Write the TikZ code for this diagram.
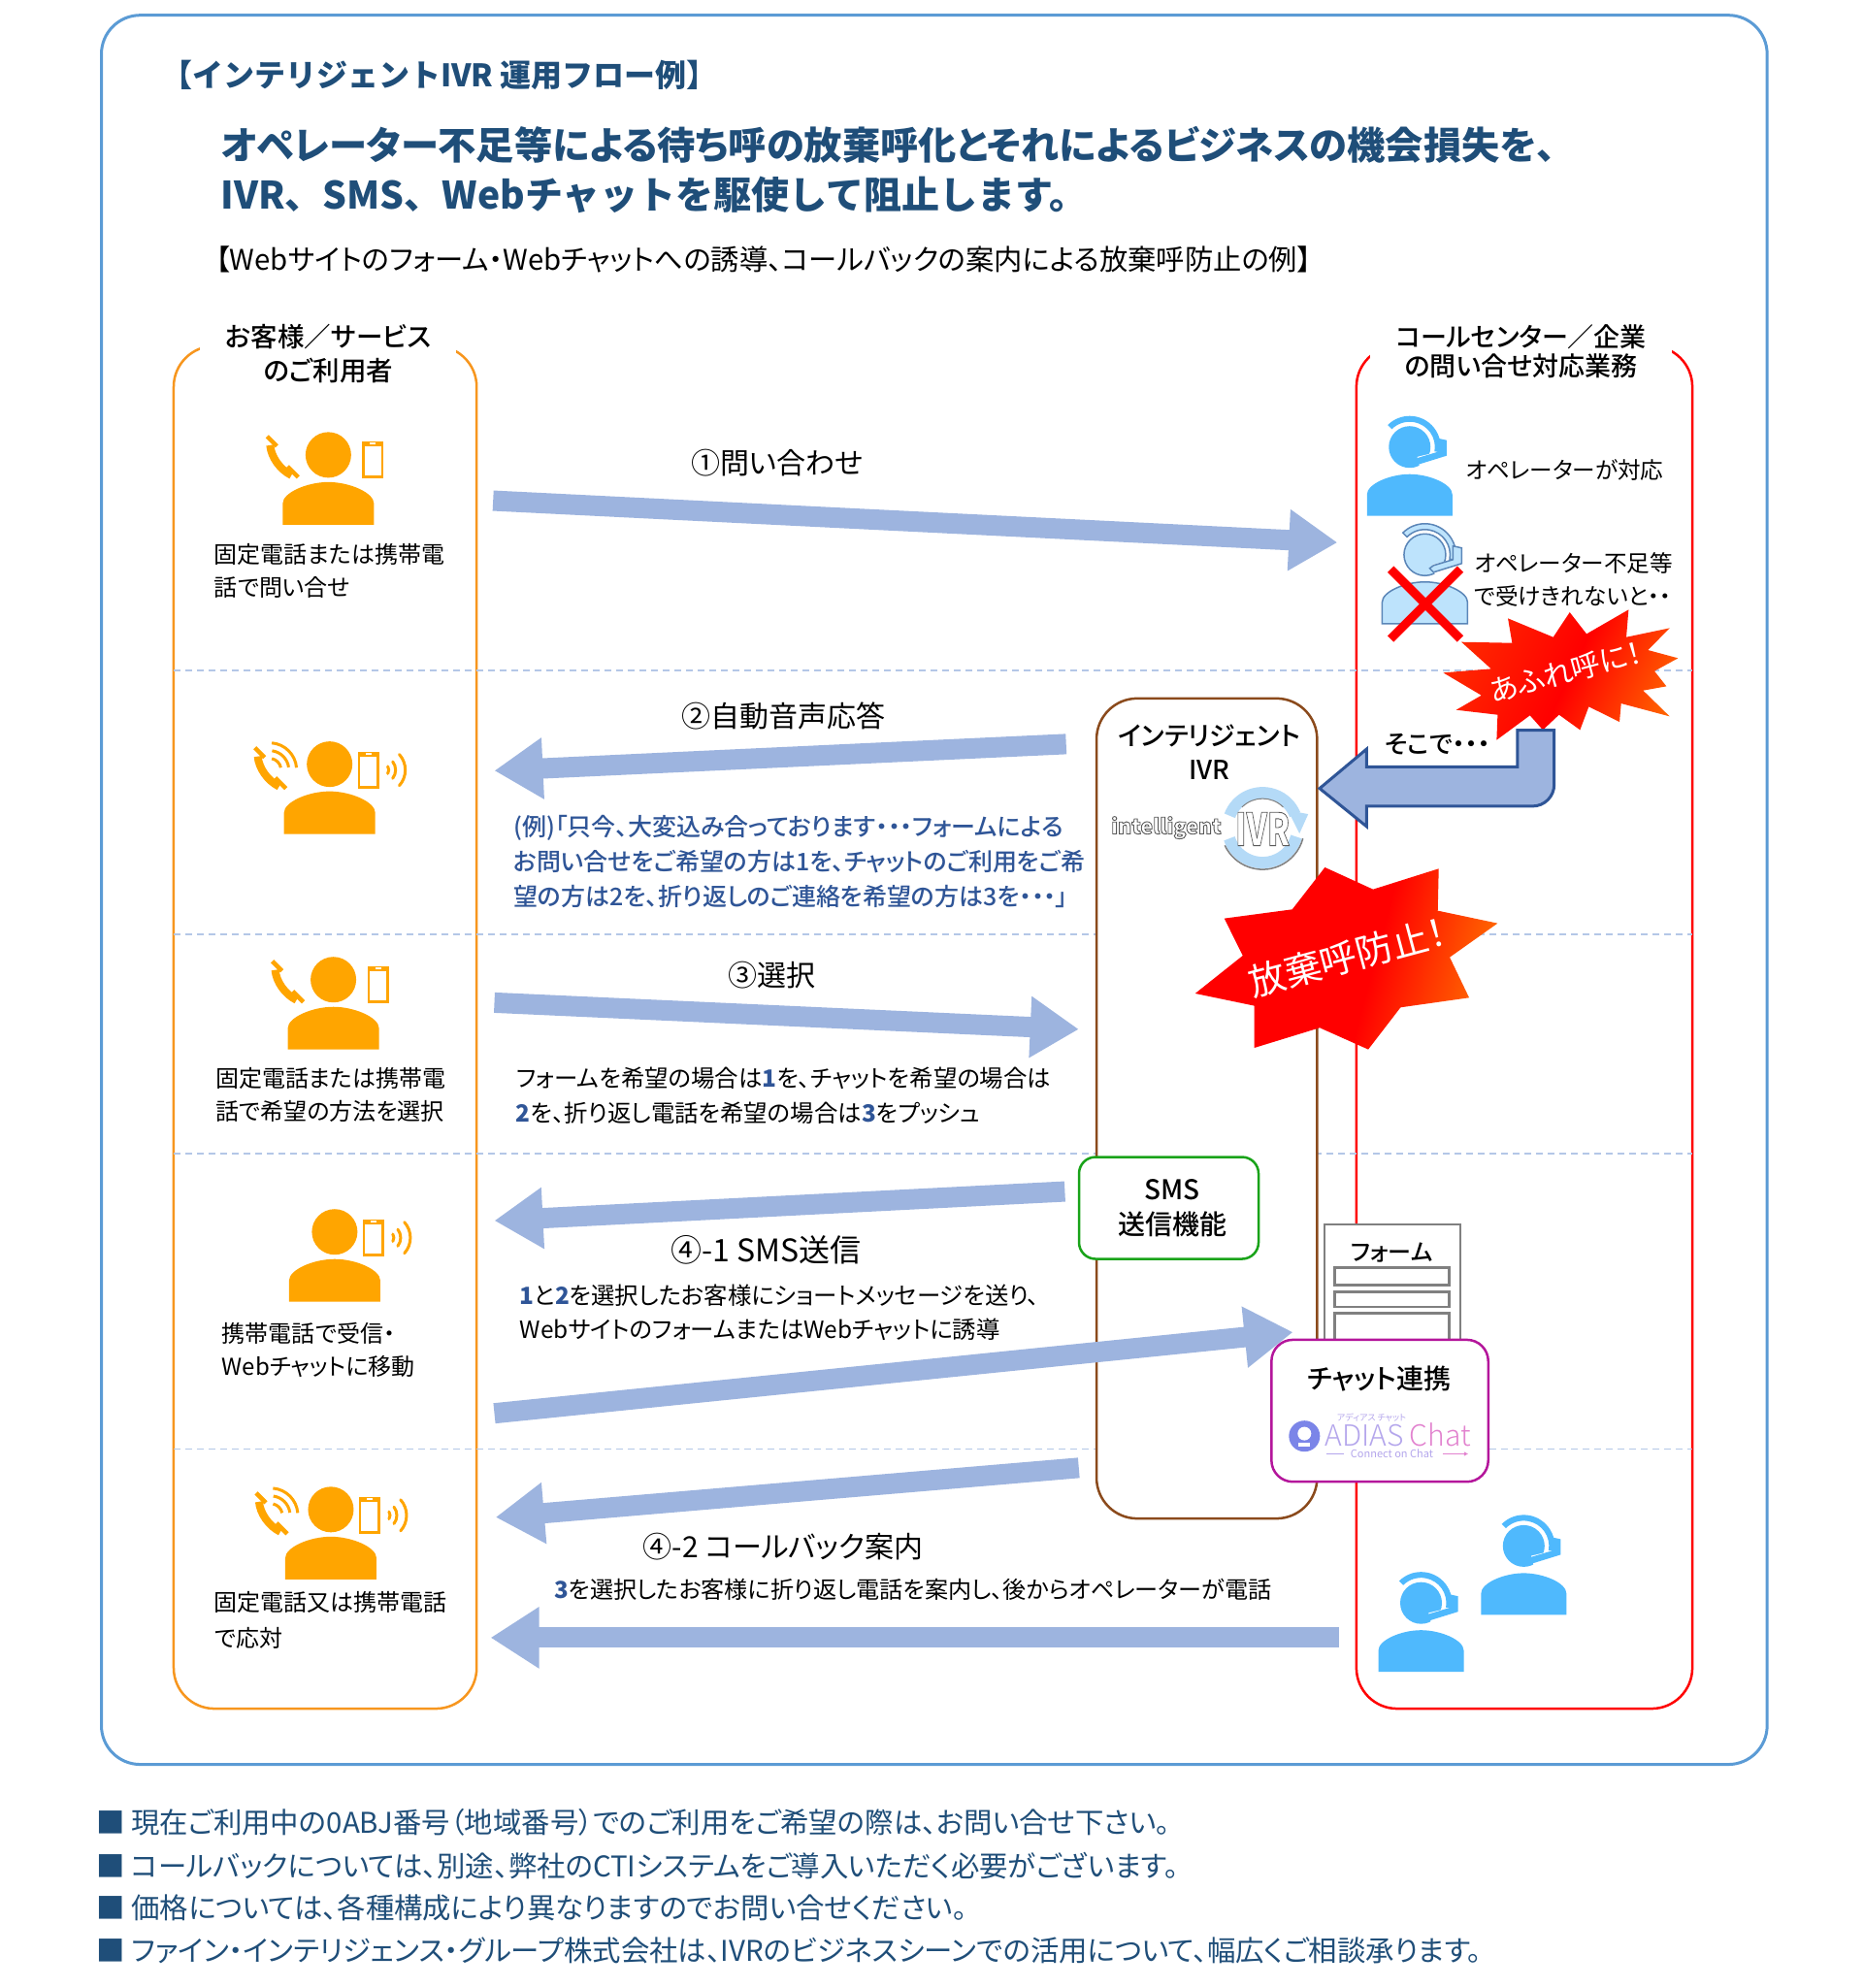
\documentclass[tikz,border=0pt]{standalone}
\usepackage{fontspec}
\setmainfont[RawFeature=+palt]{Noto Sans CJK JP}
\newfontfamily\medfont[RawFeature=+palt]{Noto Sans CJK JP Medium}
\newfontfamily\lightfont{Noto Sans CJK JP Light}
\newfontfamily\fullfont{Noto Sans CJK JP}
\usetikzlibrary{arrows.meta}

\definecolor{headblue}{HTML}{1F4E79}
\definecolor{keyblue}{HTML}{2F5597}
\definecolor{framecol}{HTML}{5B9BD5}
\definecolor{flowcol}{HTML}{9DB4DF}
\definecolor{dashcol}{HTML}{B4C7E7}
\definecolor{custcol}{HTML}{F7961E}
\definecolor{iconorange}{HTML}{FFA500}
\definecolor{opblue}{HTML}{4FB9FD}
\definecolor{opfade}{HTML}{BDE3FC}
\definecolor{opedge}{HTML}{5B86B8}
\definecolor{ivrcol}{HTML}{8B4A1C}
\definecolor{ringcol}{HTML}{B4DAF7}
\definecolor{chatcol}{HTML}{B4169B}
\definecolor{logopurple}{HTML}{B4A6EC}
\definecolor{logopink}{HTML}{E283CF}
\definecolor{logocirc}{HTML}{7B85E8}

\pgfdeclarehorizontalshading{burstA}{100bp}{color(0bp)=(red); color(55bp)=(red); color(100bp)=(yellow!80!orange)}
\pgfdeclarehorizontalshading{burstB}{100bp}{color(0bp)=(orange!60!red); color(52bp)=(red); color(100bp)=(yellow!45!orange)}

\newcommand{\fsz}[2]{\fontsize{#1}{#2}\selectfont}
\newcommand{\edged}[1]{\special{pdf:code 2 Tr .9 w .35 G}#1\special{pdf:code 0 Tr}}

\tikzset{
  flow/.style={draw=flowcol,line width=21pt,-{Triangle[length=50pt,width=60pt]}},
  steplabel/.style={font=\fsz{30}{36},inner sep=0pt},
  caption/.style={font=\fsz{24}{34},anchor=west,align=left,inner sep=0pt},
  bodytext/.style={font=\fsz{24.4}{35.5},anchor=west,align=left,inner sep=0pt},
  boxtitle/.style={font=\medfont\fsz{27.5}{35},fill=white,align=center,inner sep=0pt},
  note/.style={font=\fsz{29.4}{32},text=headblue,anchor=west,inner sep=0pt},
  sepline/.style={draw=dashcol,line width=1.5pt,dash pattern=on 7pt off 5pt},
  person/.pic={
    \begin{scope}[x=1pt,y=1pt]
    \fill[iconorange] (0,72) circle (23.5);
    \fill[iconorange] (-47,0) -- (-47,22) .. controls (-47,33) and (-22,44) .. (0,44) .. controls (22,44) and (47,33) .. (47,22) -- (47,0) -- cycle;
    \end{scope}
  },
  handset/.pic={
    \begin{scope}[x=1pt,y=1pt]
    \draw[iconorange,line width=8pt] (-60,82) .. controls (-59,70) and (-50,57) .. (-38,51);
    \draw[iconorange,line width=4.5pt] (-63,91) -- (-53,81);
    \draw[iconorange,line width=4.5pt] (-42,60) -- (-31,49);
    \end{scope}
  },
  mobile/.pic={
    \begin{scope}[x=1pt,y=1pt]
    \fill[iconorange] (-11,-19) rectangle (11,19);
    \fill[white] (-8.5,-16) rectangle (8.5,14);
    \fill[white] (-3,15.5) rectangle (3,17.5);
    \end{scope}
  },
  sidewaves/.pic={
    \begin{scope}[x=1pt,y=1pt]
    \draw[iconorange,line width=3pt,line cap=round] (-32:7) arc[start angle=-32,end angle=32,radius=7];
    \draw[iconorange,line width=3pt,line cap=round] (-38:14) arc[start angle=-38,end angle=38,radius=14];
    \draw[iconorange,line width=3pt,line cap=round] (-42:24) arc[start angle=-42,end angle=42,radius=24];
    \end{scope}
  },
  handwaves/.pic={
    \begin{scope}[x=1pt,y=1pt]
    \draw[iconorange,line width=3pt] (12:12) arc[start angle=12,end angle=78,radius=12];
    \draw[iconorange,line width=3pt] (8:20) arc[start angle=8,end angle=82,radius=20];
    \draw[iconorange,line width=3pt] (5:28) arc[start angle=5,end angle=85,radius=28];
    \end{scope}
  },
  callperson/.pic={
    \pic {person}; \pic {handset};
    \begin{scope}[x=1pt,y=1pt]
    \pic at (46,67) {mobile};
    \end{scope}
  },
  ringperson/.pic={
    \pic {person};
    \begin{scope}[x=1pt,y=1pt]
    \pic at (-14,-2) {handset};
    \pic at (-62,66) {handwaves};
    \pic at (40,66) {mobile};
    \pic at (54,66) {sidewaves};
    \end{scope}
  },
  mobileperson/.pic={
    \pic {person};
    \begin{scope}[x=1pt,y=1pt]
    \pic at (40,66) {mobile};
    \pic at (54,66) {sidewaves};
    \end{scope}
  },
  operator/.pic={
    \begin{scope}[x=1pt,y=1pt]
    \path[pic actions] (-44,0) -- (-44,22) .. controls (-44,33) and (-20,43) .. (0,43) .. controls (20,43) and (44,33) .. (44,22) -- (44,0) -- cycle;
    \begin{scope}[shift={(0,71)}]
    \path[pic actions] (0,0) circle (21.5);
    \draw[white,line width=10pt] (38,-8) -- (9,-15);
    \path[pic actions] (135:32) arc[start angle=135,end angle=-10,radius=32] -- (-10:26) arc[start angle=-10,end angle=135,radius=26] -- cycle;
    \path[pic actions] (29,9) -- (38,7) -- (38,-9) -- (9,-18) -- (5,-14) -- (9,-11) -- (29,-5) -- cycle;
    \end{scope}
    \end{scope}
  },
}

\begin{document}
\begin{tikzpicture}[x=1.3064pt,y=-1.3064pt]
\useasboundingbox (0,0) rectangle (1469.7,1568.4);
\fill[white] (0,0) rectangle (1469.7,1568.4);
\draw[framecol,line width=3pt,rounded corners=40pt] (80,12) rectangle (1394,1392);

\node[inner sep=0pt,anchor=west,text=headblue,font=\fullfont\bfseries\fsz{32}{34}] (flowtitle) at (127,59) {【インテリジェントIVR 運用フロー例】};
\node[inner sep=0pt,anchor=west,text=headblue,font=\bfseries\fsz{39.25}{50.5},align=left] (mainhead) at (174,134) {オペレーター不足等による待ち呼の放棄呼化とそれによるビジネスの機会損失を、\\{\fullfont\bfseries\fsz{39}{50.5}IVR、SMS、Webチャットを駆使して阻止します。}};
\node[inner sep=0pt,anchor=west,font=\fsz{29.3}{36}] (subhead) at (170,205) {【Webサイトのフォーム・Webチャットへの誘導、コールバックの案内による放棄呼防止の例】};

% swim lanes
\draw[custcol,line width=2.5pt,rounded corners=42pt] (137,273) rectangle (376,1348);
\draw[red,line width=2.5pt,rounded corners=42pt] (1070,273) rectangle (1335,1348);
\node[boxtitle,minimum width=264pt] (custtitle) at (259,279) {お客様／サービス\\のご利用者};
\node[boxtitle,minimum width=311pt,font=\medfont\fsz{27}{30}] (ctrtitle) at (1200,277) {コールセンター／企業\\の問い合せ対応業務};
\foreach \ypos in {529,737,910,1143} \draw[sepline] (137,\ypos) -- (1335,\ypos);

% ivr column
\draw[ivrcol,fill=white,line width=2.5pt,rounded corners=42pt] (865,551) rectangle (1039,1198);
\node[font=\medfont\fsz{27}{35},align=center,inner sep=0pt] (ivrtitle) at (954,593) {インテリジェント\\IVR};
\begin{scope}[shift={(996,653)},x=1pt,y=1pt]
\draw[ringcol,line width=12pt] (160:36) arc[start angle=160,end angle=22,radius=36];
\draw[ringcol,line width=12pt] (198:36) arc[start angle=198,end angle=345,radius=36];
\fill[ringcol] (26,18) -- (47,14) -- (38,-6) -- cycle;
\draw[gray,line width=1.5pt] (205:43) arc[start angle=205,end angle=345,radius=43];
\draw[gray,line width=1pt] (45:30) arc[start angle=45,end angle=135,radius=30];
\end{scope}
\node[inner sep=0pt,text=white,font=\bfseries\fsz{21.5}{26}] (ivrword) at (920,653) {\edged{intelligent}};
\node[inner sep=0pt,xscale=.72,text=white,font=\bfseries\fsz{46}{50}] (ivrmark) at (996,654) {\edged{IVR}};

% customer side
\pic at (259,414) {callperson};
\pic at (260,658) {ringperson};
\pic at (263,828) {callperson};
\pic at (264,1027) {mobileperson};
\pic at (261,1246) {ringperson};
\node[caption] (cap1) at (169,450) {固定電話または携帯電\\話で問い合せ};
\node[caption] (cap2) at (170,864) {固定電話または携帯電\\話で希望の方法を選択};
\node[caption] (cap3) at (175,1065) {携帯電話で受信・\\Webチャットに移動};
\node[caption,font=\fsz{24}{36.5}] (cap4) at (169,1278) {固定電話又は携帯電話\\で応対};

% call centre side
\pic[fill=opblue] at (1112,407) {operator};
\pic[fill=opfade,draw=opedge,line width=1.5pt] at (1124,492) {operator};
\draw[red,line width=9pt] (1097,449) -- (1152,504);
\draw[red,line width=9pt] (1152,449) -- (1097,504);
\pic[fill=opblue] at (1202,1274) {operator};
\pic[fill=opblue] at (1121,1319) {operator};
\node[caption,font=\fsz{23.6}{34}] (opok) at (1156,371) {オペレーターが対応};
\node[caption,font=\fsz{23.6}{34}] (opbusy) at (1163,457) {オペレーター不足等\\で受けきれないと・・};

% overflow burst
\begin{scope}[shift={(1132.9,474.6)},x=.3333pt,y=-.3333pt]
\shade[shading=burstB,shading angle=-25] (78,125) -- (235,128) -- (222,52) -- (362,110) -- (413,33) -- (465,100) -- (595,25) -- (588,110) -- (722,82) -- (655,150) -- (748,175) -- (675,215) -- (712,262) -- (640,275) -- (722,355) -- (572,315) -- (567,372) -- (472,325) -- (445,397) -- (380,350) -- (330,397) -- (290,352) -- (187,428) -- (190,350) -- (62,335) -- (140,290) -- (22,220) -- (170,208) -- cycle;
\end{scope}
\node[rotate=15,inner sep=0pt,text=white,font=\fsz{30}{30}] (overflow) at (1235,530) {あふれ呼に！};
\draw[keyblue,fill=flowcol,line width=3pt] (1226,576) -- (1197,576) -- (1197,605) -- (1078,605) -- (1078,591) -- (1041,622) -- (1078,652) -- (1078,636) -- (1209,636) arc[start angle=90,end angle=0,radius=17] -- cycle;
\node[inner sep=0pt,font=\medfont\fsz{26}{26}] (then) at (1134,587) {そこで・・・};

% prevented burst
\begin{scope}[shift={(834.4,535.8)},x=.3333pt,y=-.3333pt]
\shade[shading=burstA,shading angle=-15] (826,582) -- (975,650) -- (1178,586) -- (1175,716) -- (1360,755) -- (1212,860) -- (1272,985) -- (1060,1015) -- (960,1145) -- (810,1078) -- (608,1140) -- (608,1010) -- (425,972) -- (572,855) -- (515,740) -- (725,712) -- cycle;
\end{scope}
\node[rotate=15,inner sep=0pt,text=white,font=\fsz{38}{38}] (prevented) at (1063,755) {放棄呼防止！};

% functions
\node[draw=green!60!black!90,line width=2.5pt,fill=white,rounded corners=17pt,minimum width=185pt,minimum height=105pt,align=center,font=\medfont\fsz{28}{36}] (sms) at (922,953) {\hspace*{7pt}SMS\\\hspace*{7pt}送信機能};
\draw[gray,fill=white,line width=2.5pt] (1045,966) rectangle (1152,1070);
\node[inner sep=0pt,font=\medfont\fsz{24}{24}] (formtitle) at (1098,988) {フォーム};
\draw[gray,line width=2.5pt] (1053,1000) rectangle (1143,1014);
\draw[gray,line width=2.5pt] (1053,1019) rectangle (1143,1031);
\draw[gray,line width=2.5pt] (1053,1036) rectangle (1143,1070);
\draw[chatcol,fill=white,line width=2.5pt,rounded corners=22pt] (1003,1057) rectangle (1174,1169);
\node[inner sep=0pt,font=\medfont\fsz{28}{28}] (chattitle) at (1088,1088) {チャット連携};
\fill[logocirc] (1029,1133) circle (16pt);
\fill[white] (1029,1131) circle (7pt);
\fill[white] (1024.5,1138) rectangle (1033.5,1141);
\node[inner sep=0pt,text=logopurple,font=\lightfont\fsz{30}{30}] (adias) at (1103,1132) {ADIAS\hspace{6pt}\textcolor{logopink}{Chat}};
\node[inner sep=0pt,text=logopurple,font=\fsz{9}{9}] (adiaskana) at (1082,1118) {アディアス チャット};
\node[inner sep=0pt,text=logopurple,font=\fsz{11}{11}] (adiasline) at (1098,1147) {Connect on Chat};
\draw[logopurple,line width=1pt] (1046,1147) -- (1060,1147);
\draw[logopink,line width=1pt,-{Triangle[length=4pt,width=4pt]}] (1138,1147) -- (1158,1147);

% flow arrows
\coordinate (q1a) at (389,395); \coordinate (q1b) at (1055,428);
\coordinate (q2a) at (841,587); \coordinate (q2b) at (390,608);
\coordinate (q3a) at (390,791); \coordinate (q3b) at (851,812);
\coordinate (q4a) at (840,940); \coordinate (q4b) at (390,963);
\coordinate (q5a) at (390,1115); \coordinate (q5b) at (1020,1051);
\coordinate (q6a) at (851,1158); \coordinate (q6b) at (391,1197);
\coordinate (q7a) at (1056,1292); \coordinate (q7b) at (387,1292);
\foreach \arr in {1,...,7} \draw[flow] (q\arr a) -- (q\arr b);

\node[steplabel] (step1) at (613,365) {①問い合わせ};
\node[steplabel] (step2) at (618,565) {②自動音声応答};
\node[steplabel] (step3) at (609,769) {③選択};
\node[steplabel,font=\fsz{32}{36}] (step41) at (604,986) {④-1 SMS送信};
\node[steplabel] (step42) at (618,1220) {④-2 コールバック案内};

\node[bodytext,text=keyblue,font=\medfont\fsz{25}{36}] (guide) at (405,680) {(例)「只今、大変込み合っております・・・フォームによる\\お問い合せをご希望の方は1を、チャットのご利用をご希\\望の方は2を、折り返しのご連絡を希望の方は3を・・・」};
\node[bodytext] (pick) at (407,864.5) {フォームを希望の場合は\textcolor{keyblue}{\textbf{1}}を、チャットを希望の場合は\\\textcolor{keyblue}{\textbf{2}}を、折り返し電話を希望の場合は\textcolor{keyblue}{\textbf{3}}をプッシュ};
\node[bodytext] (smsinfo) at (410,1035.5) {\textcolor{keyblue}{\textbf{1}}と\textcolor{keyblue}{\textbf{2}}を選択したお客様にショートメッセージを送り、\\WebサイトのフォームまたはWebチャットに誘導};
\node[bodytext,font=\fsz{24.1}{30}] (backinfo) at (437,1254) {\textcolor{keyblue}{\textbf{3}}を選択したお客様に折り返し電話を案内し、後からオペレーターが電話};

% notes
\node[note] (note1) at (76,1438) {■ 現在ご利用中の0ABJ番号（地域番号）でのご利用をご希望の際は、お問い合せ下さい。};
\node[note] (note2) at (76,1472) {■ コールバックについては、別途、弊社のCTIシステムをご導入いただく必要がございます。};
\node[note] (note3) at (76,1505) {■ 価格については、各種構成により異なりますのでお問い合せください。};
\node[note] (note4) at (76,1539) {■ ファイン・インテリジェンス・グループ株式会社は、IVRのビジネスシーンでの活用について、幅広くご相談承ります。};
\end{tikzpicture}
\end{document}
